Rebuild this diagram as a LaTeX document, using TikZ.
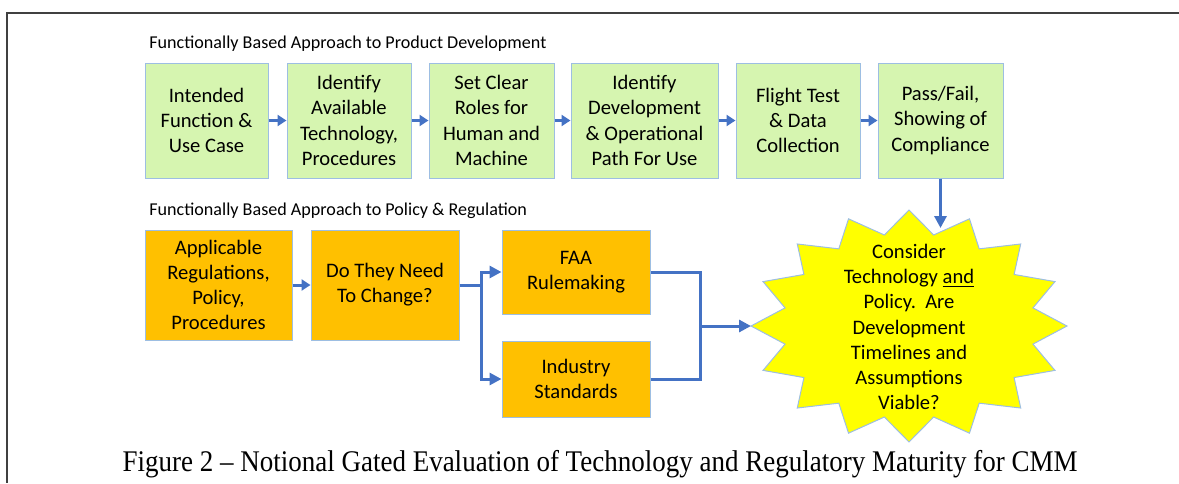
\documentclass[tikz,border=0pt]{standalone}
\usepackage{fontspec}
\setmainfont{Carlito}
\newfontfamily\captionfont{Liberation Serif}
\usetikzlibrary{arrows.meta}

\definecolor{prodgreen}{RGB}{214,245,176}
\definecolor{policygold}{RGB}{255,192,0}
\definecolor{boxedge}{RGB}{157,190,226}
\definecolor{flowblue}{RGB}{68,114,196}
\definecolor{gateyellow}{RGB}{255,255,0}
\definecolor{framegray}{RGB}{64,64,64}

\newcommand\rowtop{120.5}
\newcommand\boxfont{\fontsize{10.3}{12.6}\selectfont}

\tikzset{
  prodbox/.style={draw=boxedge,line width=0.5pt,fill=prodgreen,align=center,
    inner sep=0pt,minimum height=57.5pt,font=\boxfont},
  policybox/.style={draw=boxedge,line width=0.5pt,fill=policygold,align=center,
    inner sep=0pt,font=\boxfont},
  heading/.style={anchor=west,inner sep=0pt,font=\fontsize{9.05}{10.5}\selectfont},
  shortflow/.style={draw=flowblue,line width=1.5pt,-{Triangle[length=4.5pt,width=5.5pt]}},
  flowline/.style={draw=flowblue,line width=1.5pt},
  flow/.style={flowline,-{Triangle[length=6pt,width=6pt]}},
}

\begin{document}
\begin{tikzpicture}[x=0.5pt,y=-0.5pt]
  \useasboundingbox (0,0) rectangle (1179,483);

  % frame
  \draw[framegray,line width=1pt] (1179,13) -- (6.5,13) -- (6.5,483);

  % product development row
  \node[heading] (prodhead) at (149,44) {Functionally Based Approach to Product Development};

  \node[prodbox,minimum width=61.5pt] (intended) at (206.5,\rowtop) {Intended\\Function \&\\Use Case};
  \node[prodbox,minimum width=62pt] (available) at (349,\rowtop) {Identify\\Available\\Technology,\\Procedures};
  \node[prodbox,minimum width=62.5pt] (roles) at (491.5,\rowtop) {Set Clear\\Roles for\\Human and\\Machine};
  \node[prodbox,minimum width=73.5pt] (path) at (644.5,\rowtop) {Identify\\Development\\\& Operational\\Path For Use};
  \node[prodbox,minimum width=62pt] (flight) at (798,\rowtop) {Flight Test\\\& Data\\Collection};
  \node[prodbox,minimum width=62.5pt] (pass) at (940.5,\rowtop) {Pass/Fail,\\Showing of\\Compliance};

  \draw[shortflow] (intended) -- (available);
  \draw[shortflow] (available) -- (roles);
  \draw[shortflow] (roles) -- (path);
  \draw[shortflow] (path) -- (flight);
  \draw[shortflow] (flight) -- (pass);

  % policy and regulation row
  \node[heading] (polhead) at (149,211) {Functionally Based Approach to Policy \& Regulation};

  \node[policybox,minimum width=73.5pt,minimum height=55pt] (regs) at (218.5,285) {Applicable\\Regulations,\\Policy,\\Procedures};
  \node[policybox,minimum width=74pt,minimum height=55pt] (change) at (385,285) {Do They Need\\To Change?};
  \node[policybox,minimum width=74pt,minimum height=42pt] (faa) at (576,272) {FAA\\Rulemaking};
  \node[policybox,minimum width=74pt,minimum height=38pt] (industry) at (576,379) {Industry\\Standards};

  % gate star
  \draw[draw=boxedge,line width=0.5pt,fill=gateyellow] (909,210)
    \foreach \k in {0,...,15} {
      -- ({909+0.8*158*cos(101.25+22.5*\k)},{326-0.8*116*sin(101.25+22.5*\k)})
      -- ({909+158*cos(112.5+22.5*\k)},{326-116*sin(112.5+22.5*\k)})
    } -- cycle;
  \node[align=center,inner sep=0pt,font=\boxfont] (gate) at (909,327)
    {Consider\\Technology \underline{and}\\Policy.\ \ Are\\Development\\Timelines and\\Assumptions\\Viable?};
  \coordinate (gatewest) at (751,326);
  \coordinate (gatehit) at (940.5,228);

  \coordinate (fork) at (481,285);
  \coordinate (merge) at (700,326);

  \draw[shortflow] (regs) -- (change);
  \draw[flowline] (change.east) -- (fork);
  \draw[flow] (fork) |- (faa.west);
  \draw[flow] (fork) |- (industry.west);
  \draw[flowline] (faa.east) -| (merge);
  \draw[flowline] (industry.east) -| (merge);
  \draw[flow] (merge) -- (gatewest);
  \draw[flow] (pass.south) -- (gatehit);

  % caption
  \node[inner sep=0pt,anchor=base,font=\captionfont\fontsize{15}{17}\selectfont] (caption) at (600,471.5)
    {\scalebox{0.9}[1]{Figure 2 – Notional Gated Evaluation of Technology and Regulatory Maturity for CMM}};
\end{tikzpicture}
\end{document}
